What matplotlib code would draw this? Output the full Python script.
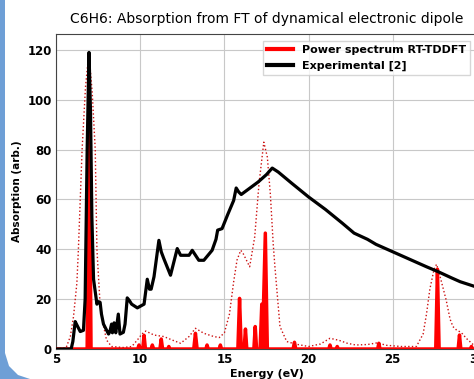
import numpy as np
import matplotlib
matplotlib.use('Agg')
from matplotlib import pyplot as plt
from matplotlib.patches import Polygon

# spectrum from RT-TDDFT (spikes)
power_x = [5.0, 6.85, 6.97, 7.08,
           9.85, 9.93, 10.0, 10.15, 10.23, 10.31, 10.65, 10.72, 10.8,
           11.17, 11.25, 11.33, 11.63, 11.7, 11.77,
           13.18, 13.28, 13.38, 13.9, 13.97, 14.04, 14.69, 14.76, 14.83,
           15.8, 15.9, 16.0, 16.17, 16.25, 16.33, 16.75, 16.83, 16.91,
           17.12, 17.22, 17.3, 17.43, 17.55,
           19.08, 19.16, 19.24, 21.2, 21.27, 21.34, 21.63, 21.7, 21.77,
           24.1, 24.17, 24.24, 27.55, 27.65, 27.75, 28.88, 28.96, 29.04,
           29.6, 29.67, 29.74, 30.0]
power_y = [0, 0, 100, 0,
           0, 1.6, 0, 0, 5.5, 0, 0, 1.6, 0,
           0, 4, 0, 0, 1, 0,
           0, 6.3, 0, 0, 1.6, 0, 0, 1.6, 0,
           0, 20.3, 0, 0, 8, 0, 0, 9, 0,
           0, 18, 12, 46.5, 0,
           0, 2.7, 0, 0, 1.6, 0, 0, 1, 0,
           0, 2.3, 0, 0, 32, 0, 0, 5.6, 0,
           0, 1, 0, 0]

# broadened spectrum (dotted)
broad_x = [5.0, 5.6, 5.85, 6.04, 6.24, 6.33, 6.44, 6.55, 6.75, 6.95, 7.15, 7.33,
           7.43, 7.6, 7.8, 8.0, 8.3, 9.0, 9.5, 9.83, 10.1, 10.33, 10.82, 11.4,
           11.9, 12.4, 12.9, 13.28, 13.78, 14.37, 14.7, 15.0, 15.3, 15.55, 15.75,
           15.97, 16.1, 16.5, 16.8, 17.05, 17.34, 17.55, 17.73, 17.9, 18.0, 18.3,
           18.7, 19.2, 20.0, 20.7, 21.27, 21.8, 22.3, 22.8, 23.5, 24.1, 24.6,
           25.5, 26.4, 26.8, 27.0, 27.2, 27.45, 27.6, 27.85, 28.17, 28.4, 28.57,
           28.8, 28.96, 29.15, 29.36, 29.8, 30.0]
broad_y = [0, 0.5, 5, 13, 26.5, 40, 60, 80, 105, 119, 103, 80,
           40, 20, 10, 3.6, 1, 0.6, 1, 3.6, 6, 7.2, 5.6, 5,
           3.6, 2.3, 5, 8.3, 6.3, 5, 4.6, 6.5, 14, 27, 35.7,
           39.6, 38.5, 33, 45, 66, 83, 77, 62, 42, 33, 9,
           3, 2, 1, 2, 4.3, 3.5, 2.3, 1.6, 1.8, 2.5, 1.5,
           1, 1, 6, 14, 24, 32, 34, 28, 19.6, 12, 9,
           7.5, 7, 6, 4.3, 1.6, 1]

# experimental curve [2]
exp_x = [5.0, 5.9, 6.0, 6.14, 6.25, 6.44, 6.63, 6.73, 6.85, 6.96, 7.05, 7.13,
         7.23, 7.43, 7.52, 7.62, 7.7, 7.82, 8.12, 8.2, 8.3, 8.35, 8.45, 8.55,
         8.7, 8.8, 9.0, 9.1, 9.23, 9.35, 9.49, 9.83, 10.23, 10.42, 10.55, 10.65,
         10.82, 11.11, 11.25, 11.4, 11.8, 12.2, 12.4, 12.6, 12.9, 13.09, 13.48,
         13.78, 14.27, 14.5, 14.6, 14.86, 15.2, 15.55, 15.7, 15.85, 16.0, 16.5,
         17.0, 17.5, 17.84, 18.2, 19.0, 20.0, 21.0, 22.0, 22.7, 23.5, 24.0,
         25.0, 26.0, 27.0, 27.7, 28.5, 29.0, 30.0]
exp_y = [0, 0, 3, 11, 9.5, 7, 7.5, 20, 80, 119, 95, 53,
         28, 18, 19, 18.7, 14, 10, 6, 7, 10, 6.5, 10.5, 6.5,
         14, 6, 6.7, 10, 20.5, 19.5, 18, 16.5, 18, 28, 24, 24,
         29, 43.6, 39, 36.3, 29.6, 40.3, 37.6, 37.6, 37.6, 39.6, 35.6,
         35.6, 39.6, 44, 47.7, 48.3, 54, 59.6, 64.6, 63, 62, 64.5,
         67, 70, 72.6, 71, 66.5, 61, 56, 50.5, 46.5, 44, 42,
         39, 36, 33, 31, 28.5, 27, 24.8]

plt.rcParams['font.family'] = 'DejaVu Sans'

fig = plt.figure(figsize=(4.74, 3.79), dpi=100)
ax = fig.add_axes([56 / 474, 30 / 379, 421 / 474, 315 / 379])

ax.fill_between(power_x, power_y, 0, color='red', lw=0)
ax.plot(power_x, power_y, c='red', lw=2.5, label='Power spectrum RT-TDDFT', zorder=3)
ax.plot(broad_x, broad_y, c='#cc1010', lw=1, ls=':', zorder=3)
ax.plot(exp_x, exp_y, c='black', lw=2.3, label='Experimental [2]', zorder=4)

ax.set_xlim(5, 30)
ax.set_ylim(0, 126.4)
ax.set_xticks([5, 10, 15, 20, 25, 30])
ax.set_yticks([0, 20, 40, 60, 80, 100, 120])
ax.grid(True, color='#c8c8c8', lw=0.8)
ax.set_axisbelow(True)
ax.tick_params(axis='both', length=0, pad=3, labelsize=8.5)
for lab in ax.get_xticklabels() + ax.get_yticklabels():
    lab.set_fontweight('bold')
for sp in ax.spines.values():
    sp.set_color('#444444')
    sp.set_linewidth(0.8)

ax.set_title('C6H6: Absorption from FT of dynamical electronic dipole', fontsize=10, pad=8)
ax.set_xlabel('Energy (eV)', fontsize=8, fontweight='bold', labelpad=2)
ax.set_ylabel('Absorption (arb.)', fontsize=7.5, fontweight='bold', labelpad=4)

leg = ax.legend(loc='upper right', prop={'weight': 'bold', 'size': 8},
                frameon=True, fancybox=False, edgecolor='#cccccc',
                handlelength=2.3, borderaxespad=0.6)
for line in leg.get_lines():
    line.set_linewidth(3)

# blue slide border on the left
border = Polygon([[0, 1], [5 / 474, 1], [5 / 474, 26 / 379], [9 / 474, 13 / 379],
                  [18 / 474, 4 / 379], [30 / 474, 0], [0, 0]],
                 closed=True, transform=fig.transFigure, color='#6e9fd6', lw=0)
fig.patches.append(border)

plt.savefig('out.png', dpi=100)
